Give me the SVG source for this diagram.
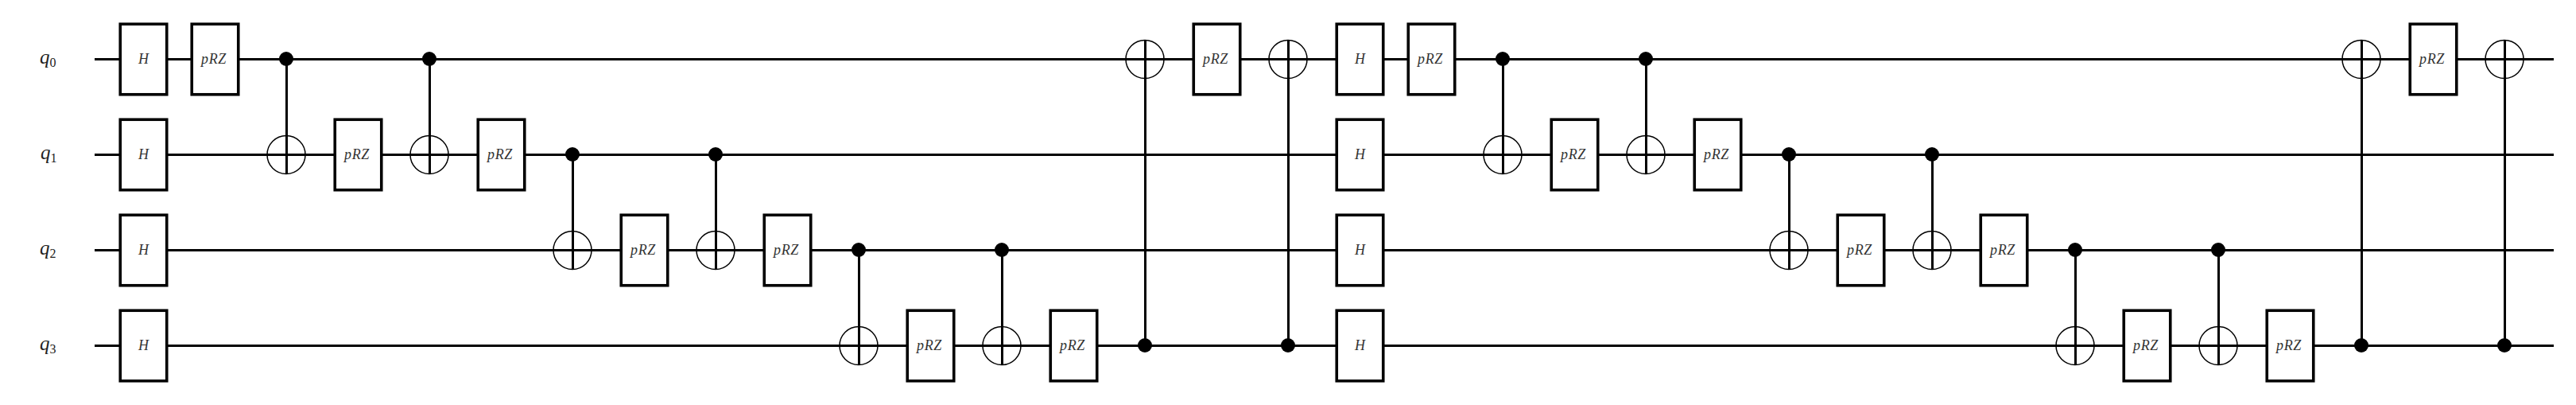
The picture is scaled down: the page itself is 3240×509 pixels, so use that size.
<svg xmlns="http://www.w3.org/2000/svg" width="3240" height="509" viewBox="0 0 3240 509">
<style>
.w{stroke:#000;stroke-width:3;fill:none}
.v{stroke:#000;stroke-width:3;fill:none}
.r{fill:#fff;stroke:#000;stroke-width:3.6}
.o{fill:none;stroke:#000;stroke-width:1.5}
.d{fill:#000}
.t{font-family:"Liberation Serif",serif;font-style:italic;font-size:18px;fill:#333;text-anchor:middle}
.p{letter-spacing:.6px}
.q{font-family:"Liberation Serif",serif;font-style:italic;font-size:25px;fill:#222}
.s{font-style:normal;font-size:16px}
</style>
<rect width="3240" height="509" fill="#fff"/>
<g id="wires">
<line class="w" x1="119" y1="74.5" x2="3212" y2="74.5"/>
<line class="w" x1="119" y1="194.5" x2="3212" y2="194.5"/>
<line class="w" x1="119" y1="314.5" x2="3212" y2="314.5"/>
<line class="w" x1="119" y1="434.5" x2="3212" y2="434.5"/>
</g>
<g id="connectors">
<line class="v" x1="360.5" y1="74" x2="360.5" y2="219"/>
<line class="v" x1="540.5" y1="74" x2="540.5" y2="219"/>
<line class="v" x1="720.5" y1="194" x2="720.5" y2="339"/>
<line class="v" x1="900.5" y1="194" x2="900.5" y2="339"/>
<line class="v" x1="1080.5" y1="314" x2="1080.5" y2="459"/>
<line class="v" x1="1260.5" y1="314" x2="1260.5" y2="459"/>
<line class="v" x1="1440.5" y1="50" x2="1440.5" y2="434"/>
<line class="v" x1="1620.5" y1="50" x2="1620.5" y2="434"/>
<line class="v" x1="1890.5" y1="74" x2="1890.5" y2="219"/>
<line class="v" x1="2070.5" y1="74" x2="2070.5" y2="219"/>
<line class="v" x1="2250.5" y1="194" x2="2250.5" y2="339"/>
<line class="v" x1="2430.5" y1="194" x2="2430.5" y2="339"/>
<line class="v" x1="2610.5" y1="314" x2="2610.5" y2="459"/>
<line class="v" x1="2790.5" y1="314" x2="2790.5" y2="459"/>
<line class="v" x1="2970.5" y1="50" x2="2970.5" y2="434"/>
<line class="v" x1="3150.5" y1="50" x2="3150.5" y2="434"/>
</g>
<g id="labels">
<text id="q0" class="q" x="50" y="80">q<tspan class="s" dy="4">0</tspan></text>
<text id="q1" class="q" x="51" y="200">q<tspan class="s" dy="4">1</tspan></text>
<text id="q2" class="q" x="50" y="320">q<tspan class="s" dy="4">2</tspan></text>
<text id="q3" class="q" x="50" y="440">q<tspan class="s" dy="4">3</tspan></text>
</g>
<g id="h1"><rect class="r" x="151.25" y="30.25" width="58.5" height="88.5"/><text class="t" x="180.5" y="80">H</text></g>
<g id="h2"><rect class="r" x="151.25" y="150.25" width="58.5" height="88.5"/><text class="t" x="180.5" y="200">H</text></g>
<g id="h3"><rect class="r" x="151.25" y="270.25" width="58.5" height="88.5"/><text class="t" x="180.5" y="320">H</text></g>
<g id="h4"><rect class="r" x="151.25" y="390.25" width="58.5" height="88.5"/><text class="t" x="180.5" y="440">H</text></g>
<g id="p1"><rect class="r" x="241.25" y="30.25" width="58.5" height="88.5"/><text class="t p" x="269" y="80">pRZ</text></g>
<g id="cx1"><circle class="o" cx="360" cy="194.5" r="24"/><circle class="d" cx="360" cy="74" r="9"/></g>
<g id="p2"><rect class="r" x="421.25" y="150.25" width="58.5" height="88.5"/><text class="t p" x="449" y="200">pRZ</text></g>
<g id="cx2"><circle class="o" cx="540" cy="194.5" r="24"/><circle class="d" cx="540" cy="74" r="9"/></g>
<g id="p3"><rect class="r" x="601.25" y="150.25" width="58.5" height="88.5"/><text class="t p" x="629" y="200">pRZ</text></g>
<g id="cx3"><circle class="o" cx="720" cy="314.5" r="24"/><circle class="d" cx="720" cy="194" r="9"/></g>
<g id="p4"><rect class="r" x="781.25" y="270.25" width="58.5" height="88.5"/><text class="t p" x="809" y="320">pRZ</text></g>
<g id="cx4"><circle class="o" cx="900" cy="314.5" r="24"/><circle class="d" cx="900" cy="194" r="9"/></g>
<g id="p5"><rect class="r" x="961.25" y="270.25" width="58.5" height="88.5"/><text class="t p" x="989" y="320">pRZ</text></g>
<g id="cx5"><circle class="o" cx="1080" cy="434.5" r="24"/><circle class="d" cx="1080" cy="314" r="9"/></g>
<g id="p6"><rect class="r" x="1141.25" y="390.25" width="58.5" height="88.5"/><text class="t p" x="1169" y="440">pRZ</text></g>
<g id="cx6"><circle class="o" cx="1260" cy="434.5" r="24"/><circle class="d" cx="1260" cy="314" r="9"/></g>
<g id="p7"><rect class="r" x="1321.25" y="390.25" width="58.5" height="88.5"/><text class="t p" x="1349" y="440">pRZ</text></g>
<g id="cx7"><circle class="o" cx="1440" cy="74.5" r="24"/><circle class="d" cx="1440" cy="434" r="9"/></g>
<g id="p8"><rect class="r" x="1501.25" y="30.25" width="58.5" height="88.5"/><text class="t p" x="1529" y="80">pRZ</text></g>
<g id="cx8"><circle class="o" cx="1620" cy="74.5" r="24"/><circle class="d" cx="1620" cy="434" r="9"/></g>
<g id="h5"><rect class="r" x="1681.25" y="30.25" width="58.5" height="88.5"/><text class="t" x="1710.5" y="80">H</text></g>
<g id="h6"><rect class="r" x="1681.25" y="150.25" width="58.5" height="88.5"/><text class="t" x="1710.5" y="200">H</text></g>
<g id="h7"><rect class="r" x="1681.25" y="270.25" width="58.5" height="88.5"/><text class="t" x="1710.5" y="320">H</text></g>
<g id="h8"><rect class="r" x="1681.25" y="390.25" width="58.5" height="88.5"/><text class="t" x="1710.5" y="440">H</text></g>
<g id="p9"><rect class="r" x="1771.25" y="30.25" width="58.5" height="88.5"/><text class="t p" x="1799" y="80">pRZ</text></g>
<g id="cx9"><circle class="o" cx="1890" cy="194.5" r="24"/><circle class="d" cx="1890" cy="74" r="9"/></g>
<g id="p10"><rect class="r" x="1951.25" y="150.25" width="58.5" height="88.5"/><text class="t p" x="1979" y="200">pRZ</text></g>
<g id="cx10"><circle class="o" cx="2070" cy="194.5" r="24"/><circle class="d" cx="2070" cy="74" r="9"/></g>
<g id="p11"><rect class="r" x="2131.25" y="150.25" width="58.5" height="88.5"/><text class="t p" x="2159" y="200">pRZ</text></g>
<g id="cx11"><circle class="o" cx="2250" cy="314.5" r="24"/><circle class="d" cx="2250" cy="194" r="9"/></g>
<g id="p12"><rect class="r" x="2311.25" y="270.25" width="58.5" height="88.5"/><text class="t p" x="2339" y="320">pRZ</text></g>
<g id="cx12"><circle class="o" cx="2430" cy="314.5" r="24"/><circle class="d" cx="2430" cy="194" r="9"/></g>
<g id="p13"><rect class="r" x="2491.25" y="270.25" width="58.5" height="88.5"/><text class="t p" x="2519" y="320">pRZ</text></g>
<g id="cx13"><circle class="o" cx="2610" cy="434.5" r="24"/><circle class="d" cx="2610" cy="314" r="9"/></g>
<g id="p14"><rect class="r" x="2671.25" y="390.25" width="58.5" height="88.5"/><text class="t p" x="2699" y="440">pRZ</text></g>
<g id="cx14"><circle class="o" cx="2790" cy="434.5" r="24"/><circle class="d" cx="2790" cy="314" r="9"/></g>
<g id="p15"><rect class="r" x="2851.25" y="390.25" width="58.5" height="88.5"/><text class="t p" x="2879" y="440">pRZ</text></g>
<g id="cx15"><circle class="o" cx="2970" cy="74.5" r="24"/><circle class="d" cx="2970" cy="434" r="9"/></g>
<g id="p16"><rect class="r" x="3031.25" y="30.25" width="58.5" height="88.5"/><text class="t p" x="3059" y="80">pRZ</text></g>
<g id="cx16"><circle class="o" cx="3150" cy="74.5" r="24"/><circle class="d" cx="3150" cy="434" r="9"/></g>
</svg>
